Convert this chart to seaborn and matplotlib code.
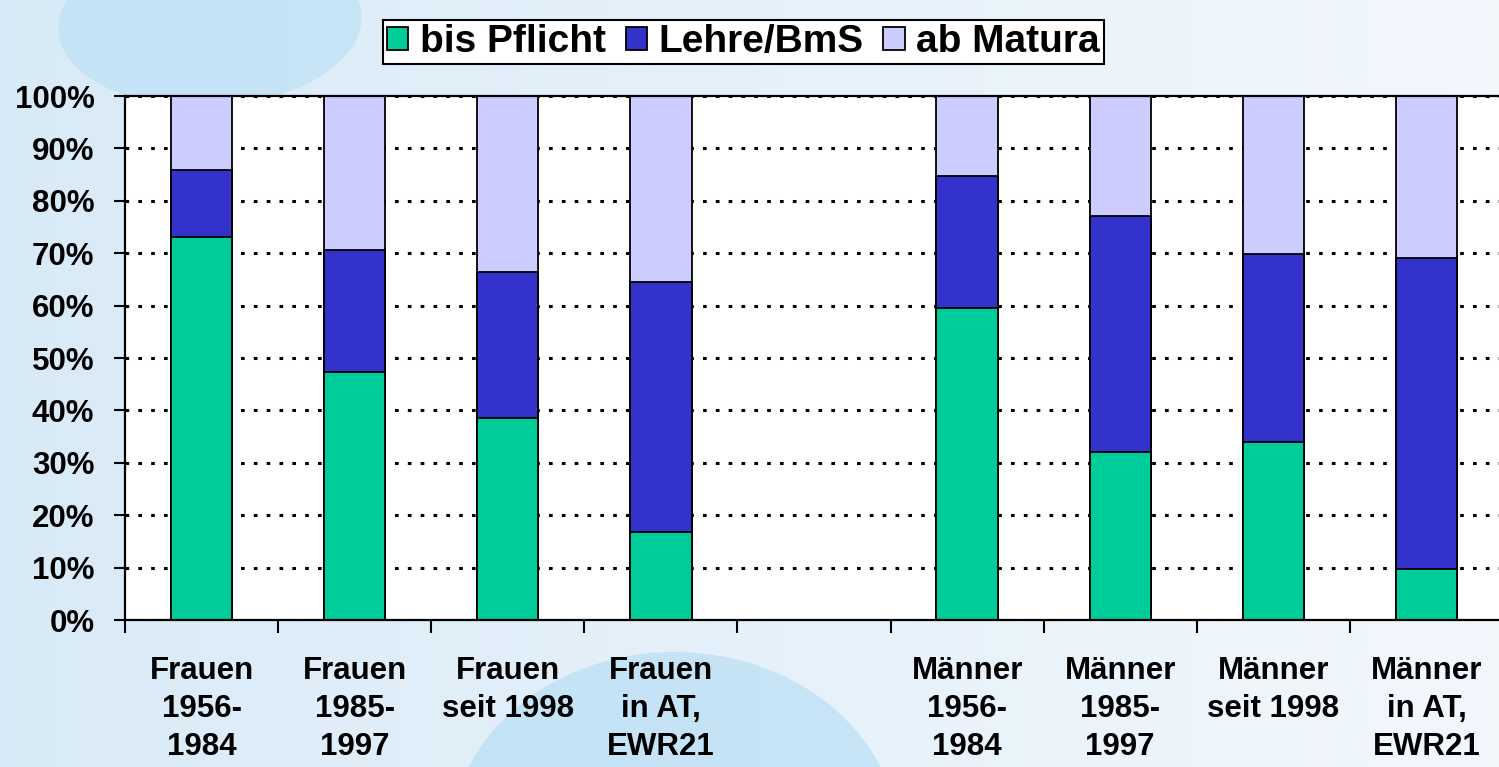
import numpy as np
import pandas as pd
import matplotlib
matplotlib.use("Agg")
import matplotlib.pyplot as plt
import seaborn as sns
from matplotlib.patches import Patch, Ellipse

# ---- data ----
categories = ["Frauen\n1956-\n1984", "Frauen\n1985-\n1997", "Frauen\nseit 1998",
              "Frauen\nin AT,\nEWR21",
              "Männer\n1956-\n1984", "Männer\n1985-\n1997", "Männer\nseit 1998",
              "Männer\nin AT,\nEWR21"]
gap_label = " "
order = categories[:4] + [gap_label] + categories[4:]
series_names = ["bis Pflicht", "Lehre/BmS", "ab Matura"]
pflicht = [73.0, 47.3, 38.6, 16.7, 59.5, 32.1, 33.9, 9.8]
lehre = [12.9, 23.3, 27.8, 47.8, 25.2, 45.0, 35.9, 59.3]
matura = [14.1, 29.4, 33.6, 35.5, 15.3, 22.9, 30.2, 30.9]
ytick_vals = list(range(0, 101, 10))
ytick_labels = [f"{v}%" for v in ytick_vals]
colors = ["#00CC99", "#3333CC", "#CCCCFF"]

df = pd.DataFrame({"cat": categories, "pflicht": pflicht,
                   "lehre": lehre, "matura": matura})
df["c1"] = df["pflicht"]
df["c2"] = df["pflicht"] + df["lehre"]
df["c3"] = df["c2"] + df["matura"]

sns.set_style("white")
plt.rcParams["font.family"] = ["Liberation Sans", "DejaVu Sans"]
plt.rcParams["font.weight"] = "bold"
plt.rcParams["text.color"] = "black"
plt.rcParams["xtick.color"] = "black"
plt.rcParams["ytick.color"] = "black"
plt.rcParams["xtick.labelcolor"] = "black"
plt.rcParams["ytick.labelcolor"] = "black"

fig = plt.figure(figsize=(14.99, 7.67), dpi=100)

# background decoration
bg = fig.add_axes([0, 0, 1, 1], zorder=-10)
grad = np.linspace(0, 1, 300)[None, :]
c_left = np.array([0.85, 0.92, 0.97])
c_right = np.array([0.95, 0.97, 0.99])
img = c_left[None, None, :] * (1 - grad[..., None]) + c_right[None, None, :] * grad[..., None]
img = np.repeat(img, 10, axis=0)
bg.imshow(img, extent=[0, 1, 0, 1], aspect="auto", transform=bg.transAxes)
bg.add_patch(Ellipse((0.45, -0.10), 0.30, 0.50, color="#a9d8f4", alpha=0.5,
                     transform=bg.transAxes, linewidth=0))
bg.add_patch(Ellipse((0.14, 0.97), 0.20, 0.22, angle=-20, color="#b0dcf6", alpha=0.5,
                     transform=bg.transAxes, linewidth=0))
bg.set_xlim(0, 1)
bg.set_ylim(0, 1)
bg.axis("off")

ax = fig.add_axes([125 / 1499, 147 / 767, (1503 - 125) / 1499, (620 - 96) / 767])
ax.set_facecolor("white")

for col, color in zip(["c3", "c2", "c1"], colors[::-1]):
    sns.barplot(data=df, x="cat", y=col, order=order, color=color,
                saturation=1, width=0.4, edgecolor="black", linewidth=1.3,
                ax=ax, errorbar=None)

ax.set_xlim(-0.5, 8.5)
ax.set_ylim(0, 100)
ax.set_xlabel("")
ax.set_ylabel("")

ax.set_yticks(ytick_vals)
ax.set_yticklabels(ytick_labels, fontsize=22.5, fontweight="bold", color="black")
ax.tick_params(axis="y", left=True, length=8, width=1.5, direction="out", pad=14,
               color="black")

ax.set_xticks(range(len(order)))
ax.set_xticklabels([lbl if lbl != gap_label else "" for lbl in order],
                   fontsize=22.5, fontweight="bold", linespacing=1.35, color="black")
ax.set_xticks(np.arange(-0.5, 9.0, 1.0), minor=True)
ax.tick_params(axis="x", which="major", bottom=True, length=0, pad=26)
ax.tick_params(axis="x", which="minor", bottom=True, length=9, width=1.5,
               direction="out", color="black")

ax.yaxis.grid(True, linestyle=(0, (1.2, 3.0)), linewidth=2.2, color="black")
ax.xaxis.grid(False)
ax.set_axisbelow(True)

for s in ["left", "bottom", "top"]:
    ax.spines[s].set_visible(True)
    ax.spines[s].set_color("black")
    ax.spines[s].set_linewidth(1.6)
ax.spines["right"].set_visible(False)

handles = [Patch(facecolor=c, edgecolor="black", linewidth=1.3) for c in colors]
leg = fig.legend(handles, series_names, loc="center", bbox_to_anchor=(0.496, 0.945),
                 ncol=3, frameon=True, fancybox=False, edgecolor="black",
                 framealpha=1, facecolor="white",
                 prop=dict(weight="bold", size=28),
                 handlelength=0.55, handleheight=0.55, handletextpad=0.3,
                 columnspacing=0.5, borderpad=0.1, borderaxespad=0)
leg.get_frame().set_linewidth(1.5)
for t in leg.get_texts():
    t.set_color("black")

fig.savefig("out.png", dpi=100)
